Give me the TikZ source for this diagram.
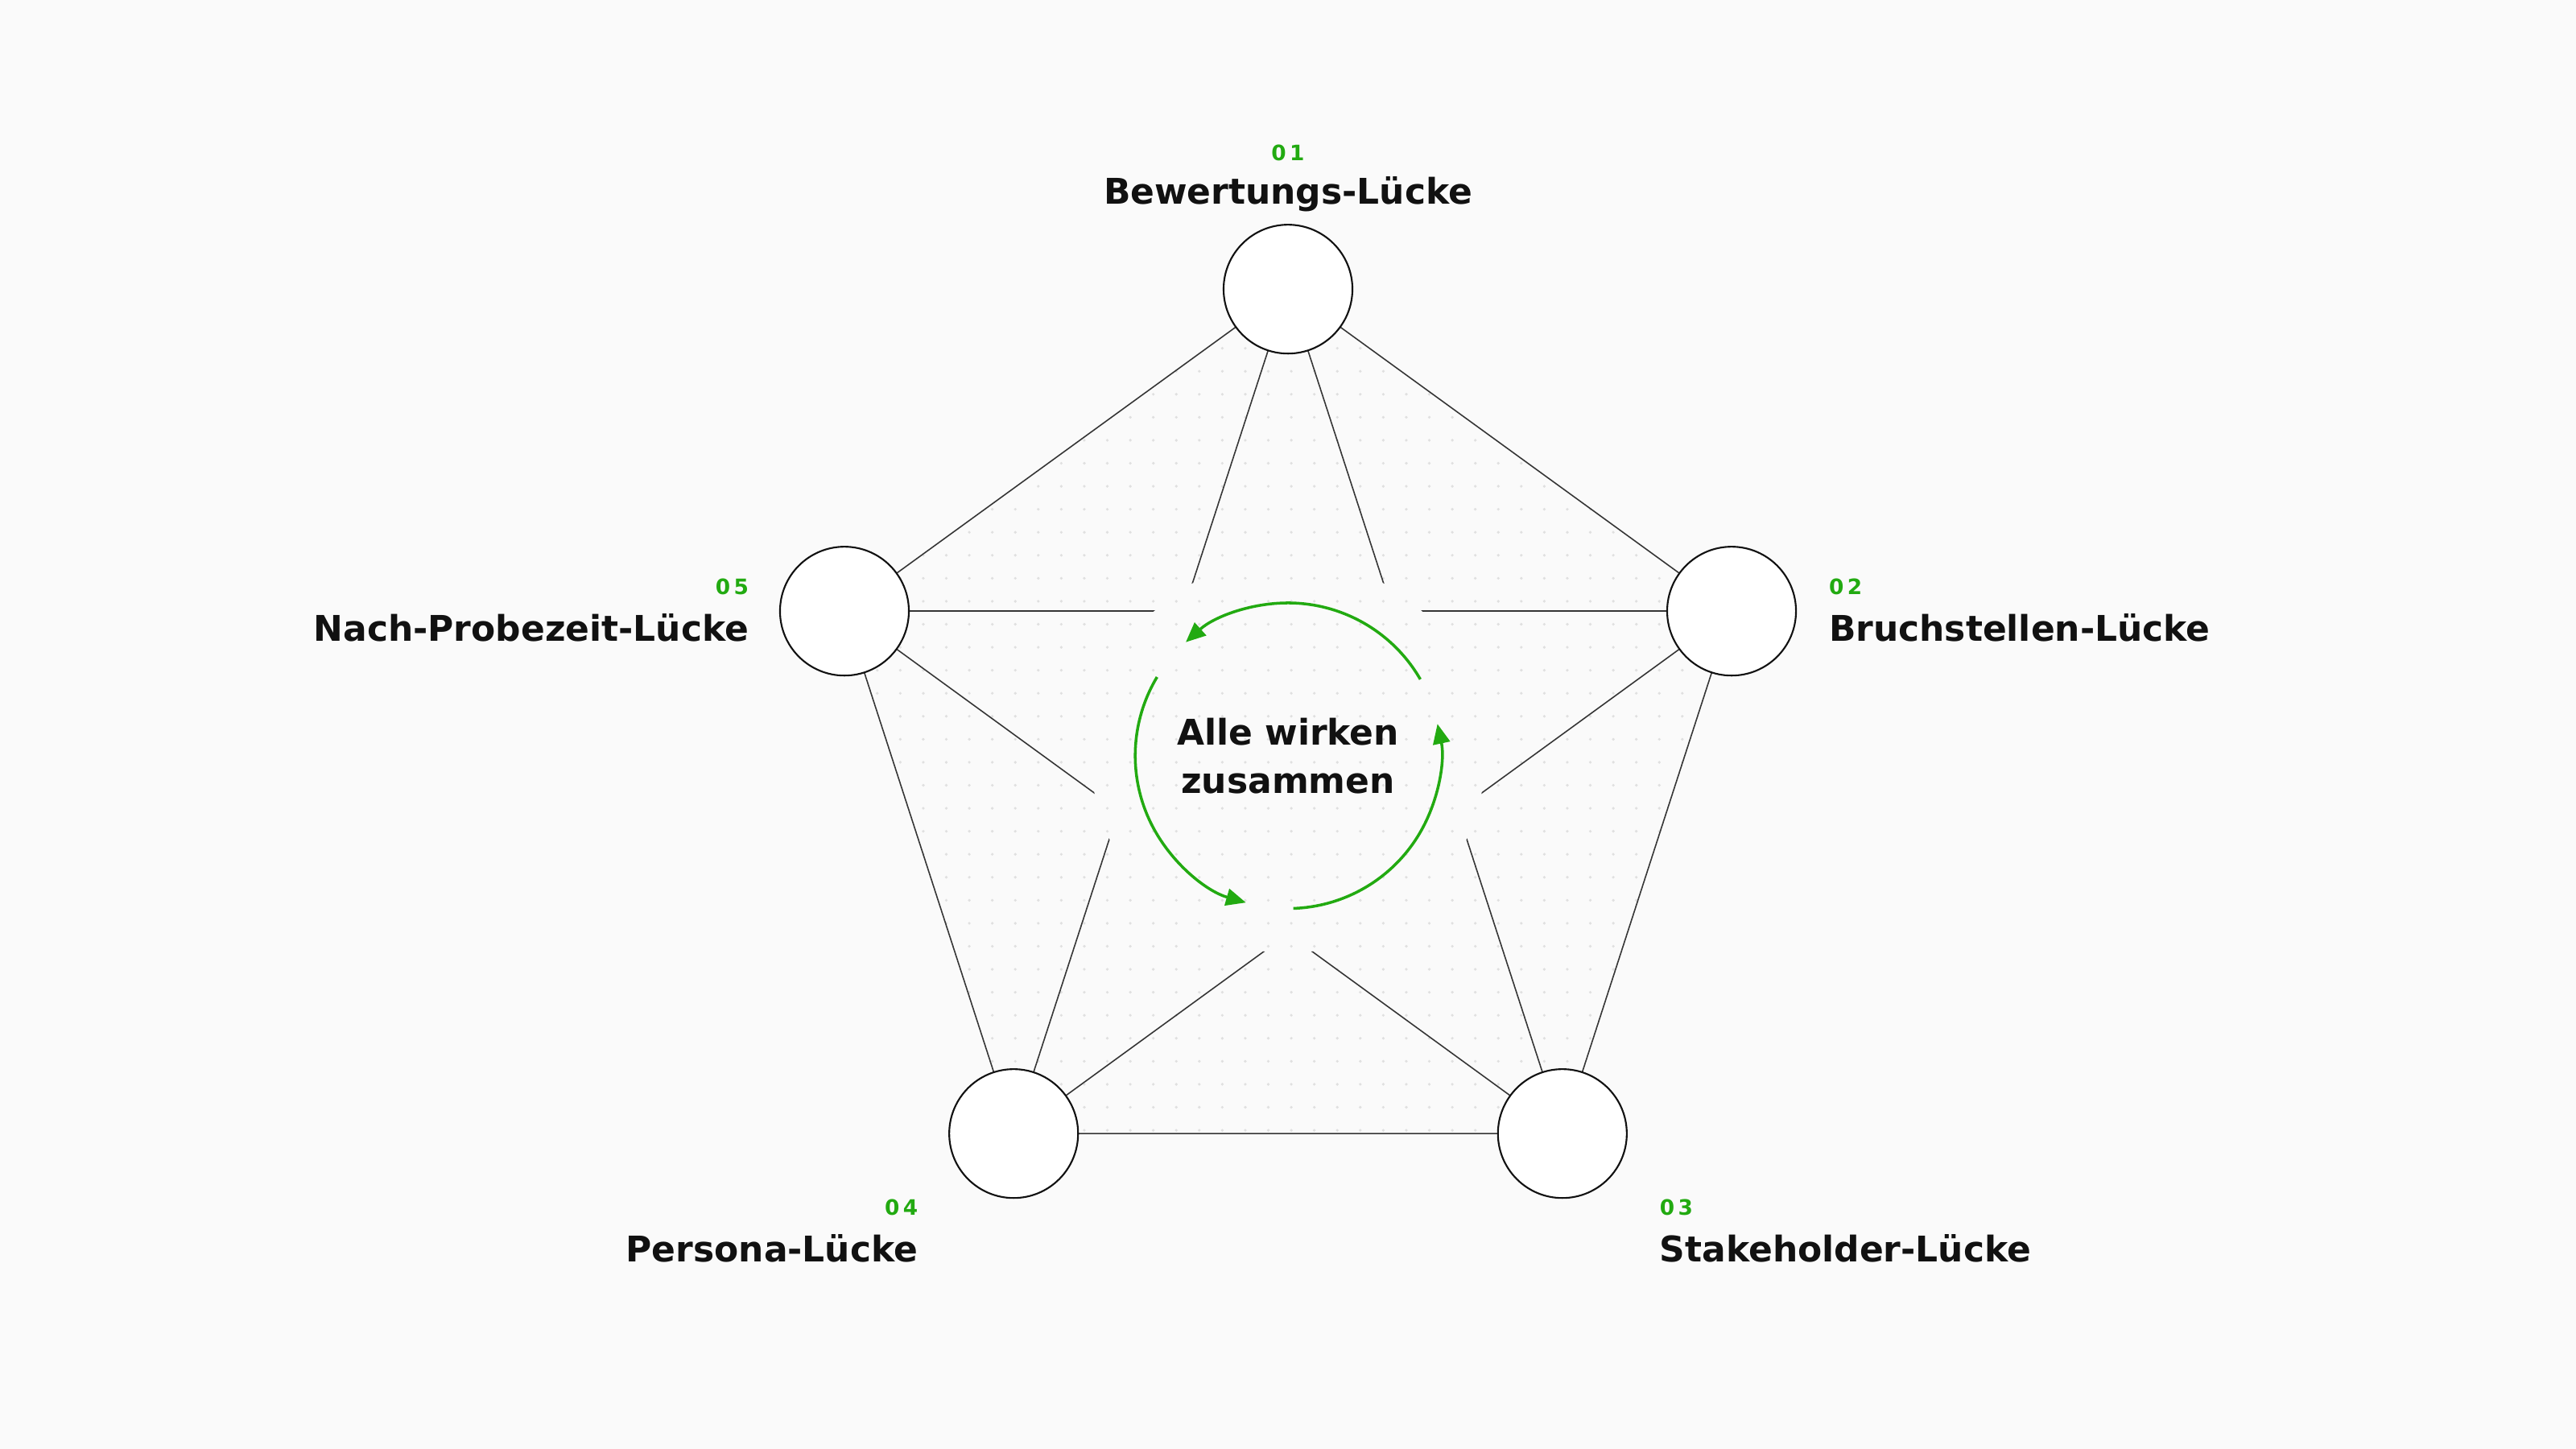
\documentclass[tikz,border=0pt]{standalone}
\usepackage{fontspec}
\setmainfont{DejaVu Sans}
\usepackage{tikz}
\usetikzlibrary{arrows.meta}
\definecolor{bg}{HTML}{FAFAFA}
\definecolor{gruen}{HTML}{22AA11}
\definecolor{ink}{HTML}{111111}
\begin{document}
\begin{tikzpicture}[x=0.020408cm, y=-0.020408cm,
	gap/.style={shape=circle, draw=ink, line width=0.6pt, fill=white, minimum size=1.6cm, inner sep=0pt},
	titel/.style={font=\fontsize{12.5}{15}\selectfont\bfseries, text=ink, inner sep=0pt},
	nummer/.style={font=\fontsize{7.5}{9}\selectfont\bfseries, text=gruen, inner sep=0pt},
	verbindung/.style={draw=ink!85, line width=0.45pt},
	kreislauf/.style={draw=gruen, line width=1pt, -{Triangle[length=7pt,width=6pt]}}]
	
	\fill[bg] (0,0) rectangle (1568,882);
	\useasboundingbox (0,0) rectangle (1568,882);
	
	\coordinate (mitte) at (784,460);
	\coordinate (p1) at (784,176);
	\coordinate (p2) at (1054,372);
	\coordinate (p3) at (951,690);
	\coordinate (p4) at (617,690);
	\coordinate (p5) at (514,372);
	
	% punktraster
	\begin{scope}
		\clip (p1) -- (p2) -- (p3) -- (p4) -- (p5) -- cycle;
		\foreach \x in {506,520,...,1062}
			\foreach \y in {170,184,...,700}
				\fill[black!12] (\x,\y) circle[radius=0.9];
	\end{scope}
	
	% aussenkanten
	\path[verbindung] (p1) -- (p2) -- (p3) -- (p4) -- (p5) -- cycle;
	
	% diagonalen mit luecke
	\begin{scope}[even odd rule]
		\clip (0,0) rectangle (1568,882) (mitte) circle[radius=120];
		\path[verbindung] (p1) -- (p3);
		\path[verbindung] (p1) -- (p4);
		\path[verbindung] (p2) -- (p4);
		\path[verbindung] (p2) -- (p5);
		\path[verbindung] (p5) -- (p3);
	\end{scope}
	
	\node[gap] (bew) at (p1) {};
	\node[gap] (bruch) at (p2) {};
	\node[gap] (stake) at (p3) {};
	\node[gap] (pers) at (p4) {};
	\node[gap] (nach) at (p5) {};
	
	\node[titel] (tbew) at (784,118) {Bewertungs-Lücke};
	\node[nummer] (nbew) at (784,93) {0\,1};
	\node[titel, anchor=west] (tbruch) at (1113,382) {Bruchstellen-Lücke};
	\node[nummer, anchor=west] (nbruch) at (1113,357) {0\,2};
	\node[titel, anchor=west] (tstake) at (1010,760) {Stakeholder-Lücke};
	\node[nummer, anchor=west] (nstake) at (1010,735) {0\,3};
	\node[titel, anchor=east] (tpers) at (559,760) {Persona-Lücke};
	\node[nummer, anchor=east] (npers) at (559,735) {0\,4};
	\node[titel, anchor=east] (tnach) at (456,382) {Nach-Probezeit-Lücke};
	\node[nummer, anchor=east] (nnach) at (456,357) {0\,5};
	
	\node[titel, align=center, font=\fontsize{12.5}{17}\selectfont\bfseries] (zentrum) at (mitte) {Alle wirken\\zusammen};
	
	% kreislauf
	\draw[kreislauf] ([shift={(88:93)}]mitte) arc[start angle=88, end angle=-12, radius=93];
	\draw[kreislauf] ([shift={(-30:93)}]mitte) arc[start angle=-30, end angle=-132, radius=93];
	\draw[kreislauf] ([shift={(211:93)}]mitte) arc[start angle=211, end angle=106, radius=93];
	
\end{tikzpicture}
\end{document}
